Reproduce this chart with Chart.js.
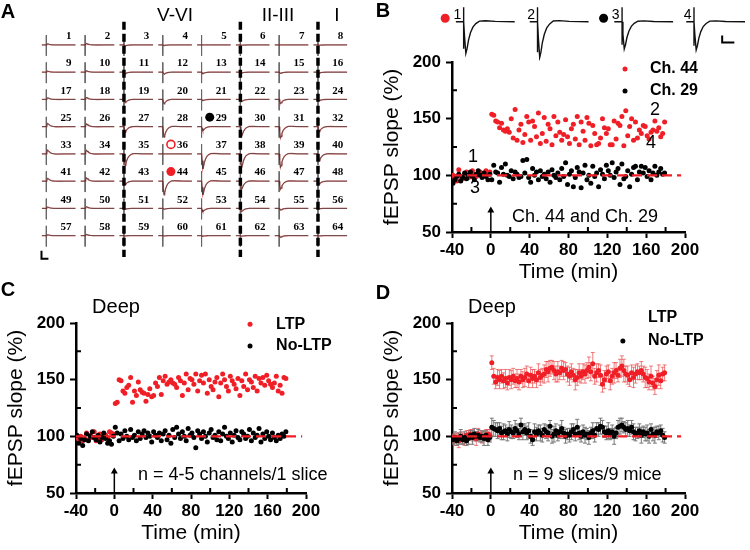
<!DOCTYPE html>
<html>
<head>
<meta charset="utf-8">
<script src="https://cdn.jsdelivr.net/npm/chart.js@4.4.1/dist/chart.umd.min.js"></script>
<style>
  body { margin: 0; background: #fff; }
  #wrap { position: relative; width: 750px; height: 550px; overflow: hidden; font-family: 'Liberation Sans', Arial, sans-serif; }
  canvas { position: absolute; }
  .lbl { position: absolute; transform: translate(-50%, -50%); white-space: nowrap; line-height: 1; }
  .panel { font-weight: bold; font-size: 20px; }
  .layer { font-size: 19px; }
</style>
</head>
<body>
<div id="wrap">
  <canvas id="chartA" width="375" height="275" style="left:0;top:0"></canvas>
  <canvas id="chartB" width="375" height="285" style="left:375px;top:0"></canvas>
  <canvas id="tracesB" width="320" height="65" style="left:430px;top:0"></canvas>
  <canvas id="chartC" width="375" height="270" style="left:0;top:280px"></canvas>
  <canvas id="chartD" width="375" height="270" style="left:375px;top:280px"></canvas>
  <div class="lbl panel" style="left:8px;top:11px">A</div>
  <div class="lbl panel" style="left:383px;top:10px">B</div>
  <div class="lbl panel" style="left:8px;top:289px">C</div>
  <div class="lbl panel" style="left:383px;top:292px">D</div>
  <div class="lbl layer" style="left:175px;top:14px">V-VI</div>
  <div class="lbl layer" style="left:278px;top:14px">II-III</div>
  <div class="lbl layer" style="left:337px;top:14px">I</div>
</div>
<script>
// ---- data ----
// fEPSP waveform template (ms, normalised) shared by the sample traces
var waveT = [-3.2, 0, 0.35, 0.9, 1.4, 2.0, 2.8, 3.8, 5, 6.5, 9, 13, 21]
var waveV = [0, 0, -0.45, -1, -0.85, -0.58, -0.35, -0.17, -0.06, 0.02, 0.03, 0.01, 0]

// panel A: response amplitude (mV, + = negative going) of channels 1..64
var ampA = [
  -0.04, -0.05, 0.03, 0.02, 0.0, 0.01, 0.0, 0.01,
  -0.04, -0.05, 0.05, 0.07, 0.05, 0.03, 0.04, 0.03,
  -0.06, -0.07, 0.12, 0.16, 0.04, 0.08, 0.15, 0.04,
  -0.12, -0.1, 0.2, 0.38, 0.15, 0.35, 0.42, 0.18,
  -0.14, -0.13, 0.42, 0.0, 0.55, 0.5, 0.5, 0.25,
  -0.1, -0.12, 0.12, 0.5, 0.5, 0.3, 0.3, 0.1,
  -0.05, -0.06, 0.03, 0.03, 0.12, 0.12, 0.06, 0.01,
  -0.03, -0.04, 0.01, 0.01, 0.02, 0.02, 0.06, 0.01
]
var layerCols = [2, 5, 7]   // dashed borders sit on these electrode columns

// panel B insets: traces 1-4 (mV)
var ampB = [0.92, 1.04, 0.79, 0.82]
var labB = ['1', '2', '3', '4']

// time axis (min)
var timeStart = -39, timeStep = 2, nPts = 110

var ch44 = [100, 97, 95, 105, 99, 97, 101, 103, 98, 100, 104, 101, 99, 102, 103, 100, 101, 104, 102, 103,
  154, 153, 148, 147, 142, 146, 140, 139, 141, 138, 150, 133, 158, 131, 140, 145, 129, 136, 152, 147,
  131, 148, 143, 134, 155, 128, 137, 151, 130, 145, 141, 127, 152, 135, 147, 138, 131, 136, 149, 134,
  128, 141, 145, 132, 152, 127, 147, 139, 131, 151, 146, 126, 144, 137, 127, 128, 133, 150, 142, 137,
  141, 127, 127, 148, 132, 146, 144, 152, 126, 157, 135, 143, 150, 131, 147, 133, 140, 137, 144, 143,
  135, 132, 138, 140, 148, 139, 142, 134, 137, 147]
var ch29 = [93, 96, 99, 101, 95, 98, 102, 97, 100, 103, 99, 96, 101, 104, 100, 98, 102, 99, 96, 101,
  96, 109, 103, 102, 94, 107, 101, 110, 100, 99, 104, 97, 103, 101, 98, 99, 113, 102, 114, 98,
  94, 106, 100, 103, 96, 104, 99, 101, 97, 103, 94, 105, 100, 98, 102, 96, 106, 99, 111, 92,
  101, 104, 90, 98, 107, 103, 89, 102, 109, 96, 100, 93, 108, 99, 102, 90, 105, 101, 97, 109,
  104, 100, 111, 98, 103, 106, 92, 110, 97, 99, 104, 90, 101, 107, 108, 96, 103, 108, 102, 107,
  99, 104, 96, 102, 108, 100, 103, 106, 101, 102]

var ltpC = [99, 97, 100, 96, 98, 103, 97, 101, 99, 104, 96, 98, 102, 97, 100, 101, 99, 104, 103, 102,
  129, 130, 150, 149, 140, 138, 143, 145, 152, 130, 140, 136, 148, 141, 139, 138, 131, 137, 142, 135,
  136, 147, 144, 152, 137, 149, 153, 146, 148, 150, 147, 146, 143, 152, 149, 136, 147, 155, 141, 151,
  150, 146, 155, 140, 149, 154, 147, 155, 138, 150, 144, 141, 148, 152, 135, 147, 155, 150, 144, 140,
  153, 149, 146, 142, 151, 136, 149, 144, 155, 141, 150, 148, 143, 153, 140, 151, 147, 152, 145, 154,
  149, 146, 143, 147, 153, 140, 145, 138, 152, 151]
var noLtpC = [101, 94, 98, 92, 97, 102, 96, 100, 104, 99, 97, 101, 95, 99, 103, 98, 94, 96, 93, 100,
  108, 103, 96, 102, 98, 105, 100, 97, 106, 99, 101, 96, 104, 98, 102, 105, 99, 103, 100, 95,
  104, 101, 99, 103, 96, 102, 105, 97, 101, 94, 106, 99, 108, 102, 98, 104, 100, 96, 107, 101,
  103, 99, 90, 105, 102, 98, 104, 100, 95, 103, 106, 99, 101, 97, 104, 96, 102, 108, 100, 98,
  103, 95, 101, 105, 99, 97, 104, 102, 98, 100, 106, 96, 103, 99, 101, 107, 95, 102, 98, 104,
  100, 97, 103, 99, 96, 101, 98, 102, 100, 104]

var ltpD = [98, 97, 99, 96, 100, 98, 97, 101, 99, 102, 101, 100, 98, 102, 101, 99, 100, 101, 102, 101,
  165, 153, 148, 152, 150, 153, 149, 151, 147, 152, 150, 153, 149, 151, 148, 153, 150, 152, 155, 149,
  154, 151, 153, 150, 156, 152, 154, 155, 159, 157, 160, 161, 158, 155, 157, 156, 160, 158, 159, 155,
  153, 157, 154, 150, 152, 156, 153, 157, 155, 158, 161, 157, 164, 153, 156, 158, 154, 146, 150, 155,
  157, 149, 153, 156, 158, 154, 160, 162, 158, 155, 154, 150, 156, 152, 155, 157, 156, 158, 155, 152,
  151, 148, 153, 147, 144, 150, 154, 149, 155, 156]
var ltpDErr = [4, 5, 4, 6, 4, 5, 5, 4, 6, 4, 5, 4, 6, 5, 4, 5, 4, 5, 4, 5,
  6, 7, 6, 7, 8, 6, 7, 8, 6, 7, 8, 7, 6, 8, 7, 6, 7, 8, 7, 6,
  7, 8, 6, 7, 8, 7, 6, 8, 7, 9, 7, 6, 8, 7, 9, 6, 7, 8, 6, 7,
  8, 7, 6, 9, 7, 8, 6, 7, 8, 7, 9, 8, 10, 7, 8, 6, 9, 7, 8, 7,
  6, 8, 7, 9, 7, 6, 8, 9, 10, 7, 8, 6, 7, 9, 8, 7, 6, 8, 7, 9,
  8, 7, 9, 6, 7, 8, 9, 7, 6, 7]
var noLtpD = [97, 99, 96, 98, 100, 97, 99, 96, 98, 101, 99, 102, 100, 101, 99, 100, 98, 101, 97, 99,
  108, 107, 106, 105, 107, 103, 104, 105, 102, 106, 104, 103, 107, 105, 102, 110, 104, 106, 103, 105,
  100, 97, 104, 102, 105, 103, 101, 106, 104, 103, 109, 100, 102, 105, 101, 104, 107, 103, 100, 102,
  101, 104, 106, 102, 108, 103, 100, 104, 101, 102, 99, 103, 105, 101, 107, 106, 109, 108, 104, 103,
  105, 102, 104, 100, 103, 108, 109, 110, 108, 106, 107, 105, 108, 104, 102, 103, 105, 101, 104, 102,
  103, 100, 106, 102, 101, 104, 103, 105, 101, 99]
var noLtpDErr = [4, 5, 4, 5, 6, 4, 5, 4, 5, 4, 6, 5, 4, 5, 4, 5, 6, 4, 5, 4,
  8, 7, 6, 7, 5, 6, 7, 5, 6, 7, 6, 5, 7, 6, 5, 6, 7, 5, 6, 7,
  6, 5, 7, 6, 5, 7, 6, 5, 6, 7, 5, 6, 7, 6, 5, 6, 7, 5, 6, 5,
  6, 7, 5, 6, 7, 6, 5, 6, 7, 5, 6, 5, 7, 6, 5, 6, 7, 6, 5, 6,
  7, 5, 6, 7, 5, 6, 7, 6, 5, 6, 7, 5, 6, 7, 6, 5, 6, 7, 5, 6,
  7, 6, 5, 6, 7, 5, 6, 5, 6, 5]

var xTicks = [-40, 0, 40, 80, 120, 160, 200]
var xMinor = [-20, 20, 60, 100, 140, 180]
var yTicks = [50, 100, 150, 200]
var yMinor = [75, 125, 175]

// ---- helpers ----
var RED = '#f01e26'
var FONT = "'Liberation Sans', Arial, sans-serif"
Chart.defaults.font.family = FONT
Chart.defaults.color = '#000'

var times = []
for (var i = 0; i < nPts; i++) times.push(timeStart + i * timeStep)

function pts(v) { return times.map(function (t, i) { return {x: t, y: v[i]} }) }
function errBars(v, e) {
  var out = []
  times.forEach(function (t, i) { out.push({x: t, y: v[i] - e[i]}, {x: t, y: v[i] + e[i]}, {x: t, y: null}) })
  return out
}

// text drawn in data coordinates
function texts(items) {
  return {
    id: 'texts',
    afterDraw: function (chart) {
      var ctx = chart.ctx, xs = chart.scales.x, ys = chart.scales.y
      items.forEach(function (it) {
        ctx.save()
        ctx.font = it.font
        ctx.fillStyle = it.color || '#000'
        ctx.textAlign = it.align || 'left'
        ctx.textBaseline = 'middle'
        ctx.fillText(it.text, xs.getPixelForValue(it.x), ys.getPixelForValue(it.y))
        ctx.restore()
      })
    }
  }
}

// short inward ticks between the labelled ones
var minorTicks = {
  id: 'minorTicks',
  afterDraw: function (chart) {
    var ctx = chart.ctx, a = chart.chartArea
    ctx.save()
    ctx.strokeStyle = '#000'
    ctx.lineWidth = 2
    ctx.beginPath()
    xMinor.forEach(function (v) {
      var p = chart.scales.x.getPixelForValue(v)
      ctx.moveTo(p, a.bottom); ctx.lineTo(p, a.bottom - 5)
    })
    yMinor.forEach(function (v) {
      var p = chart.scales.y.getPixelForValue(v)
      ctx.moveTo(a.left, p); ctx.lineTo(a.left + 5, p)
    })
    ctx.stroke()
    ctx.restore()
  }
}

function plotOptions(pad) {
  return {
    responsive: false, animation: false, devicePixelRatio: 1,
    layout: {padding: pad},
    plugins: {legend: {display: false}, tooltip: {enabled: false}},
    scales: {
      x: {
        type: 'linear', min: -40, max: 200,
        afterBuildTicks: function (s) { s.ticks = xTicks.map(function (v) { return {value: v} }) },
        ticks: {padding: 2, font: {size: 17, weight: 'bold'}, color: '#000'},
        grid: {drawOnChartArea: false, tickLength: 6, tickWidth: 2, tickColor: '#000'},
        border: {width: 2.5, color: '#000'},
        title: {display: true, text: 'Time (min)', font: {size: 21}, padding: 0, color: '#000'},
        afterFit: function (s) { s.height = 53 }
      },
      y: {
        type: 'linear', min: 50, max: 200,
        afterBuildTicks: function (s) { s.ticks = yTicks.map(function (v) { return {value: v} }) },
        ticks: {padding: 5, font: {size: 17, weight: 'bold'}, color: '#000'},
        grid: {drawOnChartArea: false, tickLength: 6, tickWidth: 2, tickColor: '#000'},
        border: {width: 2.5, color: '#000'},
        title: {display: true, text: 'fEPSP slope (%)', font: {size: 21}, padding: 0, color: '#000'},
        afterFit: function (s) { s.width = 72.6 }
      }
    }
  }
}

function dotSet(data, color, order) {
  return {data: data, pointRadius: 2.5, pointBorderWidth: 0, pointBackgroundColor: color, showLine: false, order: order}
}
function baseline100() {
  return {data: [{x: -40, y: 100}, {x: 196, y: 100}], showLine: true, borderColor: RED, borderWidth: 2.2,
    borderDash: [10, 5], pointRadius: 0, order: 0}
}
function arrow() {
  return {data: [{x: 0, y: 50}, {x: 0, y: 69}], showLine: true, borderColor: '#000', borderWidth: 1.5,
    pointRadius: [0, 4], pointStyle: 'triangle', pointBackgroundColor: '#000', pointBorderWidth: 0, clip: false, order: 0}
}
function legendDots(x, yRed, yBlack) {
  return {data: [{x: x, y: yRed}, {x: x, y: yBlack}], pointRadius: 2.5, pointBorderWidth: 0,
    pointBackgroundColor: [RED, '#000'], showLine: false, clip: false, order: 0}
}
var annFont = '18px ' + FONT
var legFont = 'bold 16px ' + FONT

// ---- panel A: 8x8 electrode array ----
var msPerCol = 28
var aRed = [], aArt = [], aLabels = []
ampA.forEach(function (amp, k) {
  var col = k % 8, row = Math.floor(k / 8)
  waveT.forEach(function (t, i) { aRed.push({x: col + t / msPerCol, y: row - amp * waveV[i]}) })
  aRed.push({x: col, y: null})
  aArt.push({x: col, y: row - 0.36}, {x: col, y: row + 0.4}, {x: col, y: null})
  aLabels.push({x: col + 0.65, y: row - 0.32, text: String(k + 1), font: 'bold 11px "Liberation Serif", serif', align: 'right'})
})
var aSep = []
layerCols.forEach(function (c) { aSep.push({x: c, y: -0.85}, {x: c, y: 7.78}, {x: c, y: null}) })
function chPos(ch) { var k = ch - 1; return {x: k % 8 + 0.21, y: Math.floor(k / 8) - 0.35} }

new Chart(document.getElementById('chartA'), {
  type: 'scatter',
  data: {datasets: [
    {data: [chPos(29)], pointRadius: 4.5, pointBackgroundColor: '#000', pointBorderWidth: 0, order: 0},
    {data: [chPos(36)], pointRadius: 4, pointBackgroundColor: '#fff', pointBorderColor: RED, pointBorderWidth: 1.6, order: 0},
    {data: [chPos(44)], pointRadius: 4.5, pointBackgroundColor: RED, pointBorderWidth: 0, order: 0},
    {data: aSep, showLine: true, borderColor: '#000', borderWidth: 3.5, borderDash: [8, 4], pointRadius: 0, order: 1},
    {data: aRed, showLine: true, borderColor: '#3a3a3a', borderWidth: 0.7, pointRadius: 0, order: 2},
    {data: aRed, showLine: true, borderColor: 'rgba(205,40,40,0.7)', borderWidth: 1.3, pointRadius: 0, order: 3},
    {data: aArt, showLine: true, borderColor: '#666', borderWidth: 1, pointRadius: 0, order: 4},
    // scale bar 0.3 mV / 5 ms
    {data: [{x: -0.125, y: 7.55}, {x: -0.125, y: 7.85}, {x: -0.125 + 5 / msPerCol, y: 7.85}], showLine: true,
      borderColor: '#000', borderWidth: 2, pointRadius: 0, order: 0}
  ]},
  options: {
    responsive: false, animation: false, devicePixelRatio: 1,
    layout: {padding: 0},
    plugins: {legend: {display: false}, tooltip: {enabled: false}},
    scales: {
      x: {type: 'linear', display: false, min: -1.05, max: 8.325},
      y: {type: 'linear', display: false, reverse: true, min: -1.444, max: 8.239}
    }
  },
  plugins: [texts(aLabels)]
})

// ---- panel B insets ----
var offB = [12, 42.4, 77.2, 106.8]
var bLines = [], bLabels = []
ampB.forEach(function (amp, k) {
  var o = offB[k]
  bLines.push({x: o, y: 0.42}, {x: o, y: -0.85 * amp}, {x: o, y: null})
  waveT.forEach(function (t, i) { bLines.push({x: o + t, y: amp * waveV[i]}) })
  bLines.push({x: o, y: null})
  bLabels.push({x: o - 2.6, y: 0.18, text: labB[k], font: '14px ' + FONT, align: 'center'})
})
new Chart(document.getElementById('tracesB'), {
  type: 'scatter',
  data: {datasets: [
    {data: [{x: offB[0] - 7.6, y: 0.1}, {x: offB[2] - 7.6, y: 0.1}], pointRadius: 4.5, pointBorderWidth: 0,
      pointBackgroundColor: [RED, '#000']},
    {data: bLines, showLine: true, borderColor: '#111', borderWidth: 1.4, pointRadius: 0},
    {data: [{x: 118.4, y: -0.4}, {x: 118.4, y: -0.6}, {x: 123.4, y: -0.6}], showLine: true,
      borderColor: '#000', borderWidth: 2, pointRadius: 0}
  ]},
  options: {
    responsive: false, animation: false, devicePixelRatio: 1,
    layout: {padding: 0},
    plugins: {legend: {display: false}, tooltip: {enabled: false}},
    scales: {
      x: {type: 'linear', display: false, min: 0, max: 128},
      y: {type: 'linear', display: false, min: -1.125, max: 0.5}
    }
  },
  plugins: [texts(bLabels)]
})

// ---- panel B plot ----
new Chart(document.getElementById('chartB'), {
  type: 'scatter',
  data: {datasets: [
    baseline100(), arrow(), legendDots(138.2, 193.9, 174.4),
    dotSet(pts(ch29), '#000', 1),
    dotSet(pts(ch44), RED, 2)
  ]},
  options: plotOptions({left: 4.4, right: 65, top: 62, bottom: 0}),
  plugins: [minorTicks, texts([
    {x: 163.9, y: 193.9, text: 'Ch. 44', font: legFont},
    {x: 163.9, y: 174.4, text: 'Ch. 29', font: legFont},
    {x: -18.4, y: 116.2, text: '1', font: annFont, align: 'center'},
    {x: -16.3, y: 88.8, text: '3', font: annFont, align: 'center'},
    {x: 169, y: 157.7, text: '2', font: annFont, align: 'center'},
    {x: 165, y: 128.5, text: '4', font: annFont, align: 'center'},
    {x: 97, y: 63.2, text: 'Ch. 44 and Ch. 29', font: annFont, align: 'center'}
  ])]
})

// ---- panel C ----
new Chart(document.getElementById('chartC'), {
  type: 'scatter',
  data: {datasets: [
    baseline100(), arrow(), legendDots(141.6, 199, 179.7),
    dotSet(pts(noLtpC), '#000', 1),
    dotSet(pts(ltpC), RED, 2)
  ]},
  options: plotOptions({left: 3.4, right: 69, top: 43, bottom: 4}),
  plugins: [minorTicks, texts([
    {x: 1.75, y: 213.3, text: 'Deep', font: '20px ' + FONT, align: 'center'},
    {x: 168.8, y: 199, text: 'LTP', font: legFont},
    {x: 168.8, y: 179.7, text: 'No-LTP', font: legFont},
    {x: 24.7, y: 65.9, text: 'n = 4-5 channels/1 slice', font: annFont}
  ])]
})

// ---- panel D ----
new Chart(document.getElementById('chartD'), {
  type: 'scatter',
  data: {datasets: [
    baseline100(), arrow(), legendDots(136, 204.5, 184.2),
    dotSet(pts(noLtpD), '#000', 1),
    dotSet(pts(ltpD), RED, 2),
    {data: errBars(noLtpD, noLtpDErr), showLine: true, borderColor: '#777', borderWidth: 1, pointStyle: 'line',
      pointRadius: 2, pointBorderColor: '#777', pointBorderWidth: 1, order: 3},
    {data: errBars(ltpD, ltpDErr), showLine: true, borderColor: 'rgba(235,80,80,0.75)', borderWidth: 1, pointStyle: 'line',
      pointRadius: 2, pointBorderColor: 'rgba(235,80,80,0.75)', pointBorderWidth: 1, order: 4}
  ]},
  options: plotOptions({left: 4.4, right: 65, top: 43, bottom: 4}),
  plugins: [minorTicks, texts([
    {x: 1.2, y: 213.3, text: 'Deep', font: '20px ' + FONT, align: 'center'},
    {x: 162, y: 204.5, text: 'LTP', font: legFont},
    {x: 162, y: 184.2, text: 'No-LTP', font: legFont},
    {x: 22.8, y: 65.9, text: 'n = 9 slices/9 mice', font: annFont}
  ])]
})
</script>
</body>
</html>
